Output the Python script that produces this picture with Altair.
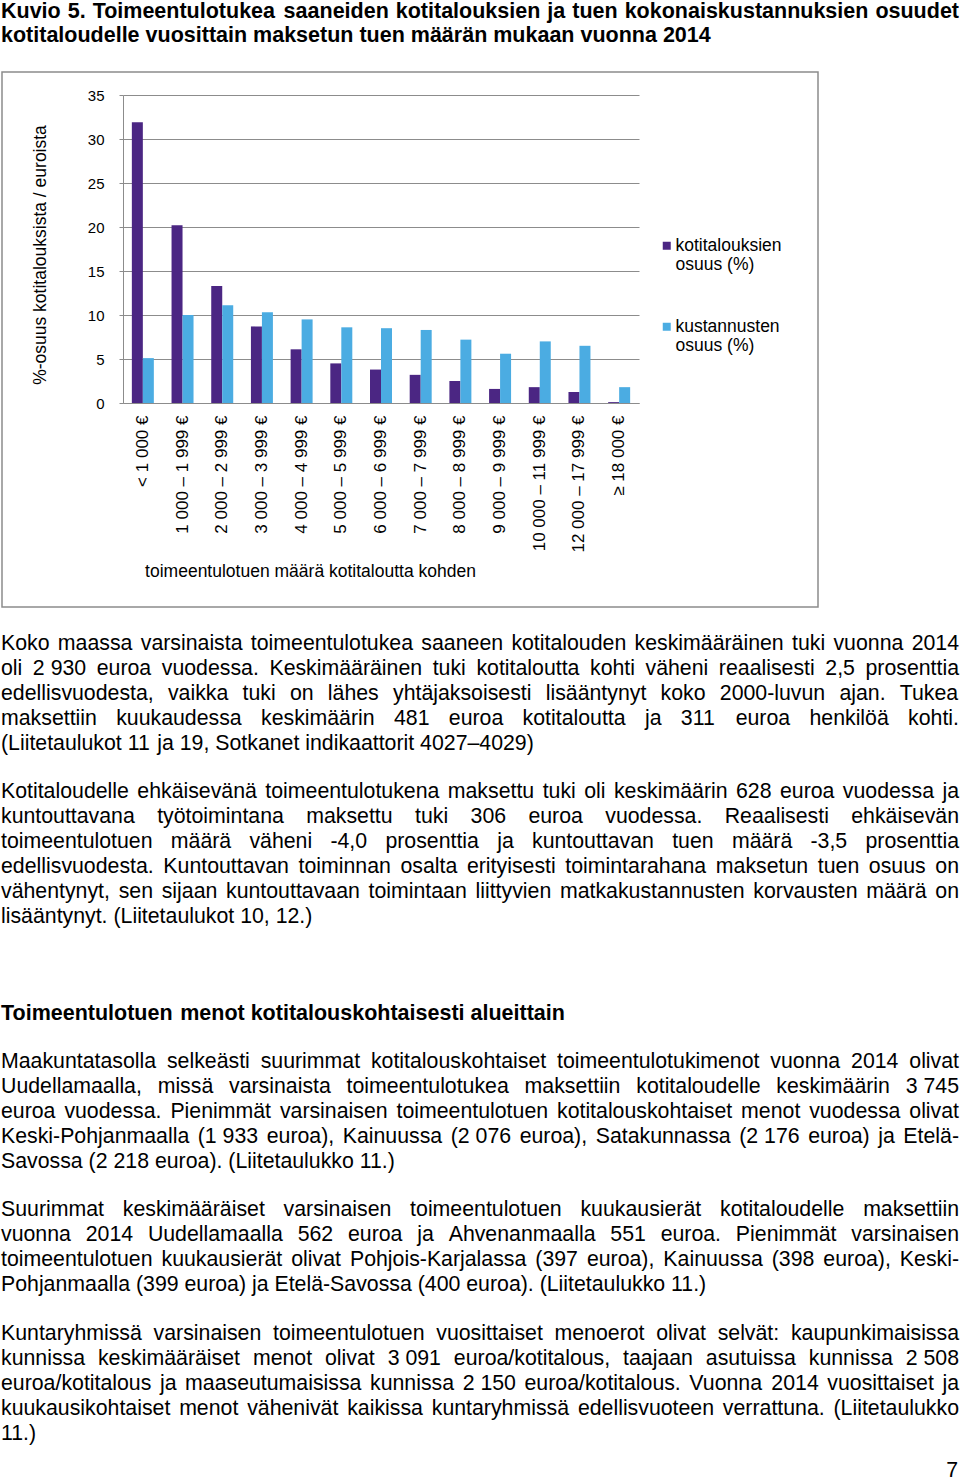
import altair as alt
import pandas as pd

# ---------------- data ----------------
categories = ["< 1 000 €", "1 000 – 1 999 €", "2 000 – 2 999 €", "3 000 – 3 999 €",
              "4 000 – 4 999 €", "5 000 – 5 999 €", "6 000 – 6 999 €", "7 000 – 7 999 €",
              "8 000 – 8 999 €", "9 000 – 9 999 €", "10 000 – 11 999 €", "12 000 – 17 999 €",
              "≥ 18 000 €"]
series = ["kotitalouksien|osuus (%)", "kustannusten|osuus (%)"]
households = [31.9, 20.2, 13.3, 8.7, 6.1, 4.5, 3.8, 3.2, 2.5, 1.6, 1.8, 1.25, 0.1]
costs = [5.1, 10.0, 11.1, 10.3, 9.5, 8.6, 8.5, 8.3, 7.2, 5.6, 7.0, 6.5, 1.8]
colors = ["#4B2683", "#4BACE2"]
y_ticks = [0, 5, 10, 15, 20, 25, 30, 35]

title_lines = [
    "Kuvio 5. Toimeentulotukea saaneiden kotitalouksien ja tuen kokonaiskustannuksien osuudet",
    "kotitaloudelle vuosittain maksetun tuen määrän mukaan vuonna 2014",
]
para1 = [
    "Koko maassa varsinaista toimeentulotukea saaneen kotitalouden keskimääräinen tuki vuonna 2014",
    "oli 2\u00a0930 euroa vuodessa. Keskimääräinen tuki kotitaloutta kohti väheni reaalisesti 2,5 prosenttia",
    "edellisvuodesta, vaikka tuki on lähes yhtäjaksoisesti lisääntynyt koko 2000-luvun ajan. Tukea",
    "maksettiin kuukaudessa keskimäärin 481 euroa kotitaloutta ja 311 euroa henkilöä kohti.",
    "(Liitetaulukot 11 ja 19, Sotkanet indikaattorit 4027–4029)",
]
para2 = [
    "Kotitaloudelle ehkäisevänä toimeentulotukena maksettu tuki oli keskimäärin 628 euroa vuodessa ja",
    "kuntouttavana työtoimintana maksettu tuki 306 euroa vuodessa. Reaalisesti ehkäisevän",
    "toimeentulotuen määrä väheni -4,0 prosenttia ja kuntouttavan tuen määrä -3,5 prosenttia",
    "edellisvuodesta. Kuntouttavan toiminnan osalta erityisesti toimintarahana maksetun tuen osuus on",
    "vähentynyt, sen sijaan kuntouttavaan toimintaan liittyvien matkakustannusten korvausten määrä on",
    "lisääntynyt. (Liitetaulukot 10, 12.)",
]
heading = ["Toimeentulotuen menot kotitalouskohtaisesti alueittain"]
para3 = [
    "Maakuntatasolla selkeästi suurimmat kotitalouskohtaiset toimeentulotukimenot vuonna 2014 olivat",
    "Uudellamaalla, missä varsinaista toimeentulotukea maksettiin kotitaloudelle keskimäärin 3\u00a0745",
    "euroa vuodessa. Pienimmät varsinaisen toimeentulotuen kotitalouskohtaiset menot vuodessa olivat",
    "Keski-Pohjanmaalla (1\u00a0933 euroa), Kainuussa (2\u00a0076 euroa), Satakunnassa (2\u00a0176 euroa) ja Etelä-",
    "Savossa (2\u00a0218 euroa). (Liitetaulukko 11.)",
]
para4 = [
    "Suurimmat keskimääräiset varsinaisen toimeentulotuen kuukausierät kotitaloudelle maksettiin",
    "vuonna 2014 Uudellamaalla 562 euroa ja Ahvenanmaalla 551 euroa. Pienimmät varsinaisen",
    "toimeentulotuen kuukausierät olivat Pohjois-Karjalassa (397 euroa), Kainuussa (398 euroa), Keski-",
    "Pohjanmaalla (399 euroa) ja Etelä-Savossa (400 euroa). (Liitetaulukko 11.)",
]
para5 = [
    "Kuntaryhmissä varsinaisen toimeentulotuen vuosittaiset menoerot olivat selvät: kaupunkimaisissa",
    "kunnissa keskimääräiset menot olivat 3\u00a0091 euroa/kotitalous, taajaan asutuissa kunnissa 2\u00a0508",
    "euroa/kotitalous ja maaseutumaisissa kunnissa 2\u00a0150 euroa/kotitalous. Vuonna 2014 vuosittaiset ja",
    "kuukausikohtaiset menot vähenivät kaikissa kuntaryhmissä edellisvuoteen verrattuna. (Liitetaulukko",
    "11.)",
]
page_number = ["7"]

# ---------------- layout helpers ----------------
OX, OY = 123, 95          # page position of plot area
PW, PH = 516, 308         # plot area size
PAGE_W, PAGE_H = 960, 1482

REG = {' ': 278, '\u00a0': 278, '%': 889, '(': 333, ')': 333, ',': 278, '-': 333, '.': 278,
       '/': 278, ':': 278, ';': 278, '–': 556, '€': 556, '<': 584, '≥': 549}
for d in "0123456789":
    REG[d] = 556
REG.update(dict(zip("ABCDEFGHIJKLMNOPQRSTUVWXYZ",
                    [667, 667, 722, 722, 667, 611, 778, 722, 278, 500, 667, 556, 833, 722, 778,
                     667, 778, 722, 667, 611, 722, 667, 944, 667, 667, 611])))
REG.update(dict(zip("abcdefghijklmnopqrstuvwxyz",
                    [556, 556, 500, 556, 556, 278, 556, 556, 222, 222, 500, 222, 833, 556, 556,
                     556, 556, 333, 500, 278, 556, 500, 722, 500, 500, 500])))
REG.update({'ä': 556, 'ö': 556, 'å': 556, 'Ä': 667, 'Ö': 778})

BOLD = dict(REG)
BOLD.update(dict(zip("ABCDEFGHIJKLMNOPQRSTUVWXYZ",
                     [722, 722, 722, 722, 667, 611, 778, 722, 278, 556, 722, 611, 833, 722, 778,
                      667, 778, 722, 667, 611, 722, 667, 944, 667, 667, 611])))
BOLD.update(dict(zip("abcdefghijklmnopqrstuvwxyz",
                     [556, 611, 556, 611, 556, 333, 611, 611, 278, 278, 556, 278, 889, 611, 611,
                      611, 611, 389, 556, 333, 611, 556, 778, 556, 556, 500])))
BOLD.update({'ä': 556, 'ö': 611})


def text_width(s, size, table):
    return sum(table.get(c, 556) for c in s) * size / 1000.0


def layout(lines, y0, dy, size, table, justify=True, left=1, right=959):
    rows = []
    for i, line in enumerate(lines):
        words = [w for w in line.split(' ') if w]
        widths = [text_width(w, size, table) for w in words]
        last = i == len(lines) - 1
        if justify and not last and len(words) > 1:
            gap = (right - left - sum(widths)) / (len(words) - 1)
        else:
            gap = text_width(' ', size, table)
        x = left
        for w, wd in zip(words, widths):
            rows.append({'w': w, 'x': x - OX, 'y': y0 + i * dy - OY})
            x += wd + gap
    return rows


BODY_SIZE = 21.3
BOLD_SIZE = 21.5

body_rows = (layout(para1, 644, 25, BODY_SIZE, REG)
             + layout(para2, 792, 25, BODY_SIZE, REG)
             + layout(para3, 1062, 25, BODY_SIZE, REG)
             + layout(para4, 1210, 25, BODY_SIZE, REG)
             + layout(para5, 1334, 25, BODY_SIZE, REG))
bold_rows = (layout(title_lines, 12, 24, BOLD_SIZE, BOLD)
             + layout(heading, 1014, 25, BOLD_SIZE, BOLD, justify=False))

FONT = "Liberation Sans"

# ---------------- chart ----------------
bar_df = pd.DataFrame({
    'cat': categories * 2,
    'series': [series[0]] * len(categories) + [series[1]] * len(categories),
    'val': households + costs,
})

box = alt.Chart(pd.DataFrame({'k': [0]})).mark_rect(
    fill='white', fillOpacity=0, stroke='#8c8c8c', strokeWidth=1.5
).encode(
    x=alt.value(2 - OX), x2=alt.value(818 - OX),
    y=alt.value(72 - OY), y2=alt.value(607 - OY)
)

bars = alt.Chart(bar_df).mark_bar().encode(
    x=alt.X('cat:N', sort=categories,
            scale=alt.Scale(paddingInner=0.446, paddingOuter=0.223),
            axis=alt.Axis(title='toimeentulotuen määrä kotitaloutta kohden',
                          labelAngle=270, labelFontSize=17, labelPadding=12,
                          labelColor='black', labelFont=FONT, ticks=False,
                          domain=True, domainColor='#8c8c8c',
                          titleFont=FONT, titleFontSize=17.5, titleFontWeight='normal',
                          titleColor='black', titleX=187, titleY=168,
                          titleAlign='center', titleBaseline='middle')),
    xOffset=alt.XOffset('series:N', sort=series,
                        scale=alt.Scale(paddingInner=0, paddingOuter=0)),
    y=alt.Y('val:Q', scale=alt.Scale(domain=[0, 35], nice=False),
            axis=alt.Axis(title='%-osuus kotitalouksista / euroista', values=y_ticks,
                          labelFontSize=15, labelPadding=15, labelColor='black',
                          labelFont=FONT, tickSize=4, tickColor='#8c8c8c',
                          domainColor='#8c8c8c', gridColor='#8c8c8c', grid=True,
                          titleFont=FONT, titleFontSize=17.5, titleFontWeight='normal',
                          titleColor='black', titleX=40 - OX, titleY=159.5,
                          titleAlign='center', titleBaseline='middle', titleAngle=270)),
    color=alt.Color('series:N', sort=series,
                    scale=alt.Scale(domain=series, range=colors),
                    legend=alt.Legend(orient='none', legendX=658 - OX, legendY=242 - OY,
                                      title=None,
                                      symbolType="M-1,-2.25H1V-0.25H-1Z",
                                      symbolSize=64, symbolStrokeWidth=0,
                                      labelFont=FONT, labelFontSize=17.5, labelColor='black',
                                      labelExpr="split(datum.label, '|')",
                                      labelBaseline='alphabetic', labelOffset=0, labelLimit=0,
                                      rowPadding=43, padding=0)),
)

body = alt.Chart(pd.DataFrame(body_rows)).mark_text(
    align='left', baseline='middle', font=FONT, fontSize=BODY_SIZE, color='black'
).encode(
    x=alt.X('x:Q', scale=None, axis=None),
    y=alt.Y('y:Q', scale=None, axis=None),
    text='w:N'
)

bold = alt.Chart(pd.DataFrame(bold_rows)).mark_text(
    align='left', baseline='middle', font=FONT, fontSize=BOLD_SIZE, fontWeight='bold',
    color='black'
).encode(
    x=alt.X('x:Q', scale=None, axis=None),
    y=alt.Y('y:Q', scale=None, axis=None),
    text='w:N'
)

pnum = alt.Chart(pd.DataFrame({'w': page_number, 'x': [958 - OX], 'y': [1471 - OY]})).mark_text(
    align='right', baseline='middle', font=FONT, fontSize=BODY_SIZE, color='black'
).encode(
    x=alt.X('x:Q', scale=None, axis=None),
    y=alt.Y('y:Q', scale=None, axis=None),
    text='w:N'
)

chart = alt.layer(box, bars, body, bold, pnum).resolve_scale(
    x='independent', y='independent'
).properties(
    width=PW, height=PH,
    padding={'left': OX, 'top': OY, 'right': PAGE_W - OX - PW, 'bottom': PAGE_H - OY - PH},
    autosize=alt.AutoSizeParams(type='none'),
    background='white'
).configure_view(stroke=None)

chart.save("out.html", embed_options={"renderer": "svg", "actions": False})
